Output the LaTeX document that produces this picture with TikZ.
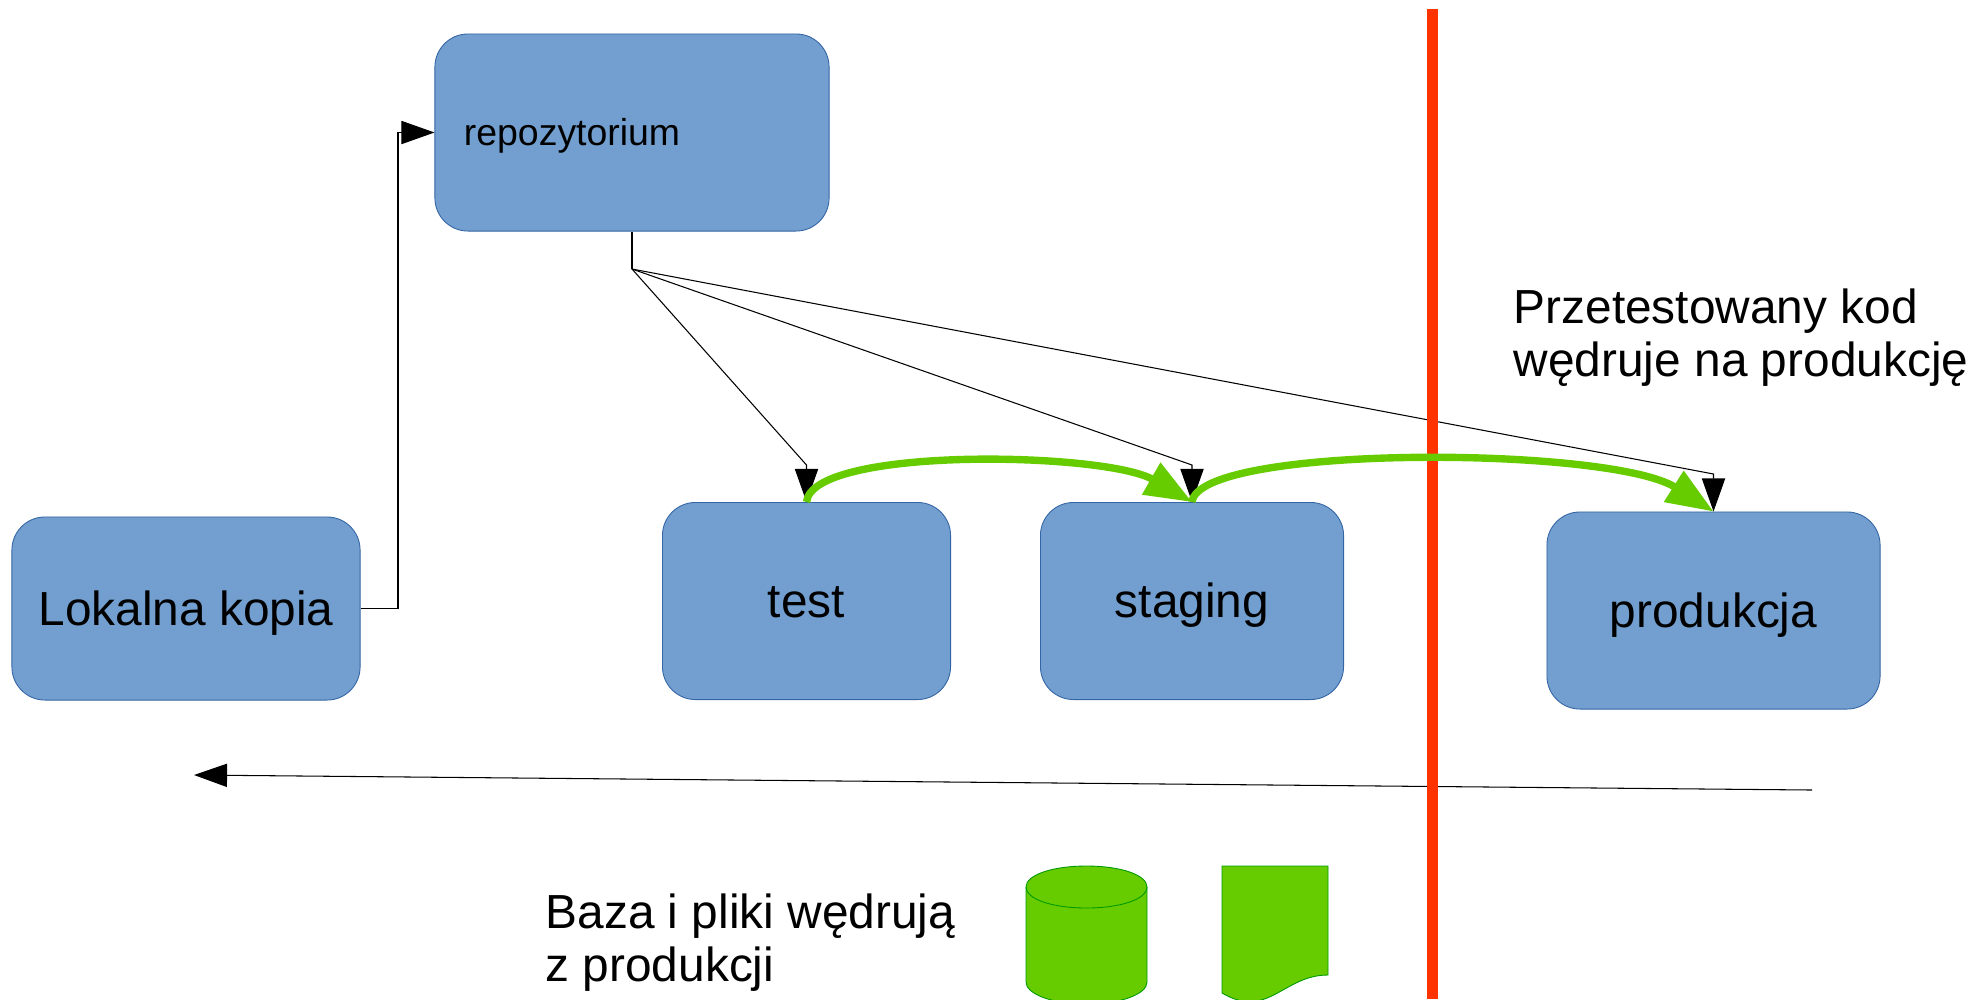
\documentclass[tikz,border=0pt]{standalone}
\usepackage{fontspec}
\setmainfont{Liberation Sans}
\usepackage{xcolor}
\definecolor{mblue}{HTML}{729FCF}
\definecolor{mborder}{HTML}{3465A4}
\definecolor{mgreen}{HTML}{66CC00}
\definecolor{mgborder}{HTML}{009900}
\definecolor{mred}{HTML}{FF3300}
\usepackage{tikz}
\usetikzlibrary{arrows.meta}
\tikzset{
    envbox/.style={draw=mborder, fill=mblue, line width=0.25pt, rounded corners=9.4pt,
        inner sep=0pt, align=center, text height=12pt, text depth=2.4pt,
        font=\fontsize{13.6pt}{15pt}\selectfont},
    note/.style={anchor=west, align=left, inner sep=0pt, font=\fontsize{13.6pt}{15.1pt}\selectfont},
    blackarrow/.style={-{Triangle[length=9.4pt, width=6.6pt]}, line width=0.3pt},
    greenarrow/.style={-{Triangle[length=13.4pt, width=10pt]}, mgreen, line width=2.1pt},
    greenshape/.style={draw=mgborder, fill=mgreen, line width=0.25pt}
}
\begin{document}
\begin{tikzpicture}[x=0.01cm, y=-0.01cm]

            \clip (0, 0) rectangle (1988, 999);

            \node[envbox, minimum width=394*0.2845pt, minimum height=197*0.2845pt,
                text width=336*0.2845pt, align=left, text height=9pt, text depth=1.4pt,
                font=\fontsize{10.64pt}{12pt}\selectfont] (repo) at (632, 132.5) {repozytorium};
            \node[envbox, minimum width=348*0.2845pt, minimum height=183*0.2845pt] (local) at (186, 608.5) {Lokalna kopia};
            \node[envbox, minimum width=288*0.2845pt, minimum height=197*0.2845pt] (test) at (806.5, 601) {test};
            \node[envbox, minimum width=303*0.2845pt, minimum height=197*0.2845pt] (staging) at (1192, 601) {staging};
            \node[envbox, minimum width=333*0.2845pt, minimum height=197*0.2845pt] (prod) at (1713.5, 610.5) {produkcja};

            \draw[blackarrow] (local.east) -- (398, 608.5) -- (398, 132.5) -- (repo.west);

            \draw[line width=0.3pt] (repo.south) -- (632, 269) coordinate (branch);
            \draw[blackarrow] (branch) -- (806.5, 465) -- (test.north);
            \draw[blackarrow] (branch) -- (1192, 465) -- (staging.north);
            \draw[blackarrow] (branch) -- (1713.5, 474) -- (prod.north);

            \coordinate (from) at (1812, 790);
            \coordinate (to) at (194, 775);
            \draw[blackarrow] (from) -- (to);

            \draw[mred, line width=3.13pt] (1432.5, 9) coordinate (top) -- (1432.5, 999) coordinate (bottom);

            \draw[greenarrow] (test.north) .. controls (812, 446) and (1105, 452) .. (staging.north);
            \draw[greenarrow] (staging.north) .. controls (1198, 444) and (1610, 446) .. (prod.north);

            \node[note] (tested) at (1513, 338) {Przetestowany kod\\wędruje na produkcję};
            \node[note] (copied) at (545, 943) {Baza i pliki wędrują\\z produkcji};

            \draw[greenshape] (1026, 887) -- (1026, 982) .. controls (1026, 994) and (1052, 1004) .. (1086.5, 1004)
                .. controls (1121, 1004) and (1147, 994) .. (1147, 982) -- (1147, 887)
                .. controls (1147, 875) and (1121, 866) .. (1086.5, 866)
                .. controls (1052, 866) and (1026, 875) .. (1026, 887) -- cycle;
            \draw[greenshape, fill=none] (1026, 887) .. controls (1026, 899) and (1052, 908) .. (1086.5, 908)
                .. controls (1121, 908) and (1147, 899) .. (1147, 887);
            \draw[greenshape] (1222, 866) -- (1328, 866) -- (1328, 975)
                .. controls (1283, 975) and (1268, 1020) .. (1222, 993) -- cycle;

          \end{tikzpicture}
\end{document}
